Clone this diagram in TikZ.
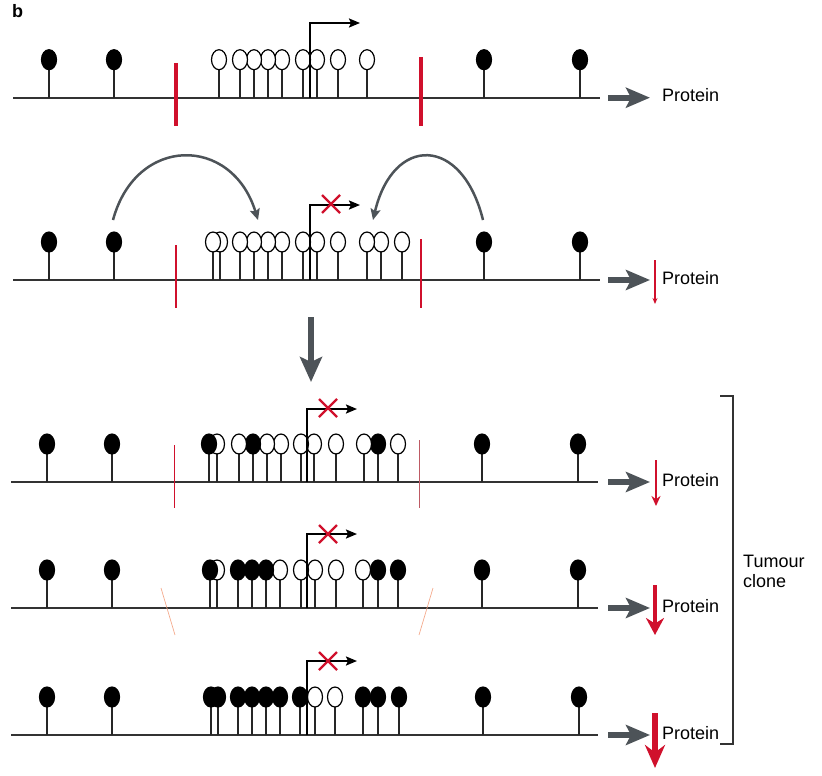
\documentclass[tikz,border=0pt]{standalone}
\usepackage{fontspec}
\setmainfont{Liberation Sans}
\usetikzlibrary{arrows.meta}
\definecolor{myred}{RGB}{208,16,44}
\definecolor{mygray}{RGB}{77,83,88}
\definecolor{mysalmon}{RGB}{244,170,140}
\definecolor{dullred}{RGB}{190,90,100}
\newcommand\lollirow[2]{%
  \foreach \xx/\ff in {#2} {%
    \draw[stemline] (\xx,#1) -- (\xx,#1-28);
    \draw[lollihead,fill=\ff] (\xx,#1-38) ellipse [x radius=7.5,y radius=10];
  }}
\newcommand\promoter[4]{% x, baseline, top, name
  \coordinate (#4a) at (#1,#2);
  \coordinate (#4b) at (#1,#3);
  \coordinate (#4c) at (#1+50,#3);
  \draw[promline] (#4a) -- (#4b) -- (#4c);}
\newcommand\redx[2]{%
  \draw[xmark] (#1-9,#2-9) -- (#1+9,#2+9);
  \draw[xmark] (#1-9,#2+9) -- (#1+9,#2-9);}
\begin{document}
\begin{tikzpicture}[x=1pt,y=-1pt,
  stemline/.style={line width=1.2pt,draw=black!85},
  lollihead/.style={line width=1.2pt,draw=black},
  baseln/.style={line width=1.6pt,draw=black!80},
  promline/.style={line width=2pt,draw=black,-{Stealth[length=11pt,width=9pt,inset=2pt]}},
  xmark/.style={line width=2.2pt,draw=myred},
  grayarrow/.style={line width=6pt,draw=mygray,-{Stealth[length=24pt,width=20pt,inset=5pt]}},
  curvearrow/.style={line width=2.5pt,draw=mygray,-{Stealth[length=11pt,width=10pt,inset=2pt]}},
  prot/.style={anchor=base west,inner sep=0pt,font=\fontsize{18}{20}\selectfont},
  ]
\useasboundingbox (0,0) rectangle (822,776);

% label
\node[anchor=base west,inner sep=0pt,font=\fontsize{18}{20}\selectfont\bfseries] (lab) at (12,18) {b};

% ---------------- Row 1 ----------------
\draw[baseln] (13,97.7) -- (600,97.7);
\lollirow{97.7}{580/black,484/black,367/white,338/white,317/white,303/white,282/white,268/white,254/white,240/white,219/white,114/black,49/black}
\draw[myred,line width=4pt] (176,63) -- (176,126);
\draw[myred,line width=4pt] (421,57) -- (421,126);
\promoter{310}{97.7}{23}{p1}
\coordinate (g1s) at (608,97.7); \coordinate (g1e) at (650,97.7);
\draw[grayarrow] (g1s) -- (g1e);
\node[prot] (t1) at (662,101.7) {Protein};

% ---------------- Row 2 ----------------
\draw[baseln] (13,280) -- (600,280);
\lollirow{280}{580/black,484/black,402/white,381/white,367/white,338/white,317/white,303/white,282/white,268/white,254/white,240/white,220/white,213/white,114/black,49/black}
\draw[myred,line width=2pt] (176,245) -- (176,308);
\draw[myred,line width=2pt] (421,239) -- (421,308);
\promoter{310}{280}{205}{p2}
\redx{331}{204}
\coordinate (c1s) at (113,220); \coordinate (c1e) at (258,220);
\draw[curvearrow] (c1s) .. controls (136,135) and (232,135) .. (c1e);
\coordinate (c2s) at (483,220); \coordinate (c2e) at (373,220);
\draw[curvearrow] (c2s) .. controls (462,135) and (393,135) .. (c2e);
\coordinate (g2s) at (608,280); \coordinate (g2e) at (650,280);
\draw[grayarrow] (g2s) -- (g2e);
\coordinate (r2s) at (655,260); \coordinate (r2e) at (655,304);
\draw[myred,line width=1.2pt,-{Stealth[length=6pt,width=5pt]}] (r2s) -- (r2e);
\node[prot] (t2) at (662,284) {Protein};

% big down arrow
\coordinate (ds) at (311,317); \coordinate (de) at (311,382);
\draw[line width=6pt,draw=mygray,-{Stealth[length=25pt,width=22pt,inset=5pt]}] (ds) -- (de);

% ---------------- Row 3 ----------------
\draw[baseln] (11,482) -- (598,482);
\lollirow{482}{578/black,482/black,398/white,378/black,364/white,336/white,314/white,301/white,281/white,267/white,253/black,239/white,217/white,209/black,112/black,47/black}
\draw[myred,line width=0.8pt] (174,445) -- (174,508);
\draw[dullred,line width=0.8pt] (419,440) -- (419,508);
\promoter{307}{482}{409}{p3}
\redx{328}{408}
\coordinate (g3s) at (608,482); \coordinate (g3e) at (650,482);
\draw[grayarrow] (g3s) -- (g3e);
\coordinate (r3s) at (656,460); \coordinate (r3e) at (656,506);
\draw[myred,line width=2.4pt,-{Stealth[length=10pt,width=9pt]}] (r3s) -- (r3e);
\node[prot] (t3) at (662,486) {Protein};

% ---------------- Row 4 ----------------
\draw[baseln] (11,608) -- (598,608);
\lollirow{608}{578/black,482/black,398/black,378/black,363/white,336/white,315/white,301/white,280/white,266/black,252/black,238/black,217/white,210/black,112/black,47/black}
\draw[mysalmon,line width=0.7pt] (161,588) -- (175,635);
\draw[mysalmon,line width=0.7pt] (433,588) -- (419,635);
\promoter{307}{608}{534}{p4}
\redx{328}{534}
\coordinate (g4s) at (608,608); \coordinate (g4e) at (650,608);
\draw[grayarrow] (g4s) -- (g4e);
\coordinate (r4s) at (655,585); \coordinate (r4e) at (655,635);
\draw[myred,line width=4pt,-{Stealth[length=17pt,width=18pt]}] (r4s) -- (r4e);
\node[prot] (t4) at (662,612) {Protein};

% ---------------- Row 5 ----------------
\draw[baseln] (11,735) -- (598,735);
\lollirow{735}{579/black,483/black,399/black,378/black,363/black,335/white,315/white,300/black,280/black,266/black,252/black,238/black,218/black,211/black,112/black,47/black}
\promoter{307}{735}{661}{p5}
\redx{328}{661}
\coordinate (g5s) at (608,735); \coordinate (g5e) at (650,735);
\draw[grayarrow] (g5s) -- (g5e);
\coordinate (r5s) at (655,713); \coordinate (r5e) at (655,768);
\draw[myred,line width=5.5pt,-{Stealth[length=23pt,width=20pt]}] (r5s) -- (r5e);
\node[prot] (t5) at (662,739) {Protein};

% bracket
\coordinate (b1) at (720,396); \coordinate (b2) at (733,396);
\coordinate (b3) at (733,744); \coordinate (b4) at (720,744);
\draw[line width=1.5pt,draw=black!80] (b1) -- (b2) -- (b3) -- (b4);
\node[prot] (tc1) at (743,567) {Tumour};
\node[prot] (tc2) at (743,587) {clone};
\end{tikzpicture}
\end{document}
